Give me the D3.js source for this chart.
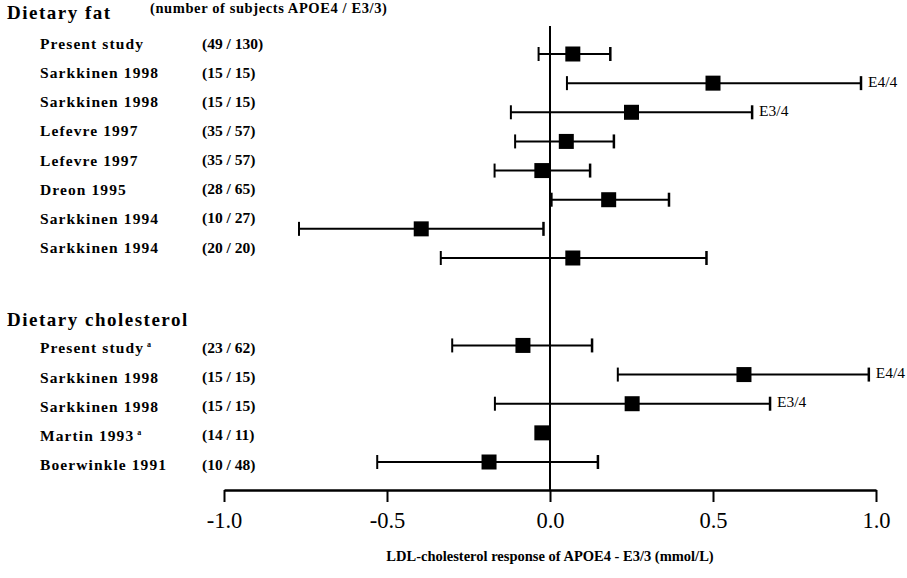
<!DOCTYPE html>
<html><head><meta charset="utf-8">
<script src="https://cdn.jsdelivr.net/npm/d3@7"></script>
<style>body{margin:0;background:#fff}svg{display:block}text{font-family:"Liberation Serif","Times New Roman",serif;fill:#000}</style>
</head><body><svg id="c" width="907" height="578"></svg>
<script>
// ---- data ----
const groups = ["Dietary fat", "Dietary cholesterol"];
const groupRows = [-1.35, 9.2];
const studies = ["Present study","Sarkkinen 1998","Sarkkinen 1998","Lefevre 1997","Lefevre 1997","Dreon 1995","Sarkkinen 1994","Sarkkinen 1994",
                 "Present study","Sarkkinen 1998","Sarkkinen 1998","Martin 1993","Boerwinkle 1991"];
const superscripts = ["","","","","","","","", "a","","","a",""];
const studyGroup = [0,0,0,0,0,0,0,0, 1,1,1,1,1];
const rows = [0,1,2,3,4,5,6,7, 10,11,12,13,14];
const counts = ["(49 / 130)","(15 / 15)","(15 / 15)","(35 / 57)","(35 / 57)","(28 / 65)","(10 / 27)","(20 / 20)",
                "(23 / 62)","(15 / 15)","(15 / 15)","(14 / 11)","(10 / 48)"];
const estimate = [0.07, 0.50, 0.25, 0.05, -0.025, 0.18, -0.395, 0.07,  -0.083, 0.595, 0.252, -0.025, -0.187];
const lower    = [-0.035, 0.052, -0.12, -0.107, -0.17, 0.005, -0.77, -0.335,  -0.30, 0.208, -0.169, null, -0.53];
const upper    = [0.185, 0.954, 0.62, 0.196, 0.123, 0.365, -0.02, 0.48,  0.129, 0.978, 0.675, null, 0.147];
const genotype = ["","E4/4","E3/4","","","","","", "","E4/4","E3/4","",""];
const xTicks = [-1.0, -0.5, 0.0, 0.5, 1.0];
const headerNote = "(number of subjects APOE4 / E3/3)";
const xTitle = "LDL-cholesterol response of APOE4 - E3/3 (mmol/L)";

// ---- drawing ----
const svg = d3.select("#c");
const x = d3.scaleLinear().domain([-1, 1]).range([224, 876]);
const y = d3.scaleLinear().domain([0, 14]).range([54, 462]);
const axisY = 490;
const labelOffset = [-9, 4];

// group headers
svg.selectAll("text.grp").data(groups).join("text")
  .attr("class","grp").attr("x", 7).attr("y", (d,i)=>y(groupRows[i]))
  .attr("dominant-baseline","middle")
  .style("font-size","19px").style("letter-spacing","1.5px").style("font-weight","bold").text(d=>d);
svg.append("text").attr("x", 150).attr("y", y(-1.52)).attr("dominant-baseline","middle")
  .style("font-size","14.5px").style("letter-spacing","0.6px").style("font-weight","bold").text(headerNote);

// study labels
const lab = svg.selectAll("text.st").data(studies).join("text")
  .attr("class","st").attr("x", 40)
  .attr("y", (d,i)=>y(rows[i]) + labelOffset[studyGroup[i]])
  .attr("dominant-baseline","middle")
  .style("font-size","15.5px").style("letter-spacing","1.1px").style("font-weight","bold");
lab.append("tspan").text(d=>d);
lab.append("tspan").attr("dx", 3).attr("dy", -4).style("font-size","8px").style("letter-spacing","0px")
  .text((d,i)=>superscripts[i]);

svg.selectAll("text.cnt").data(counts).join("text")
  .attr("class","cnt").attr("x", 202)
  .attr("y", (d,i)=>y(rows[i]) + labelOffset[studyGroup[i]])
  .attr("dominant-baseline","middle")
  .style("font-size","15.5px").style("font-weight","bold").text(d=>d);

// zero line
svg.append("line").attr("x1", x(0)).attr("x2", x(0)).attr("y1", 26).attr("y2", axisY)
  .attr("stroke","#000").attr("stroke-width", 2);

// x axis
const axis = d3.axisBottom(x).tickValues(xTicks).tickFormat(d => d3.format(".1f")(d).replace("\u2212","-")).tickSize(12).tickSizeOuter(0);
const gx = svg.append("g").attr("transform", `translate(0,${axisY})`).call(axis);
gx.select(".domain").attr("stroke","#000").attr("stroke-width",2.5);
gx.selectAll(".tick line").attr("stroke","#000").attr("stroke-width",2);
gx.selectAll(".tick text").attr("y", 22).style("font-size","22.5px")
  .style("font-family","'Liberation Serif',serif").attr("fill","#000");

svg.append("text").attr("x", x(0)).attr("y", 558).attr("text-anchor","middle")
  .attr("dominant-baseline","middle")
  .style("font-size","14.5px").style("font-weight","bold").text(xTitle);

// error bars
const idx = d3.range(studies.length);
const ci = idx.filter(i => lower[i] !== null);
svg.selectAll("line.ci").data(ci).join("line").attr("class","ci")
  .attr("x1", i=>x(lower[i])).attr("x2", i=>x(upper[i]))
  .attr("y1", i=>y(rows[i])).attr("y2", i=>y(rows[i]))
  .attr("stroke","#000").attr("stroke-width",2);
svg.selectAll("line.capL").data(ci).join("line").attr("class","capL")
  .attr("x1", i=>x(lower[i])).attr("x2", i=>x(lower[i]))
  .attr("y1", i=>y(rows[i])-7).attr("y2", i=>y(rows[i])+7)
  .attr("stroke","#000").attr("stroke-width",2);
svg.selectAll("line.capR").data(ci).join("line").attr("class","capR")
  .attr("x1", i=>x(upper[i])).attr("x2", i=>x(upper[i]))
  .attr("y1", i=>y(rows[i])-7).attr("y2", i=>y(rows[i])+7)
  .attr("stroke","#000").attr("stroke-width",2.5);

// squares
const s = 15;
svg.selectAll("rect.pt").data(idx).join("rect").attr("class","pt")
  .attr("x", i=>x(estimate[i]) - s/2).attr("y", i=>y(rows[i]) - s/2)
  .attr("width", s).attr("height", s).attr("fill","#000");

// genotype labels
svg.selectAll("text.gt").data(idx.filter(i=>genotype[i])).join("text").attr("class","gt")
  .attr("x", i=>x(upper[i]) + 7).attr("y", i=>y(rows[i]))
  .attr("dominant-baseline","middle")
  .style("font-size","15.5px").text(i=>genotype[i]);
</script></body></html>
